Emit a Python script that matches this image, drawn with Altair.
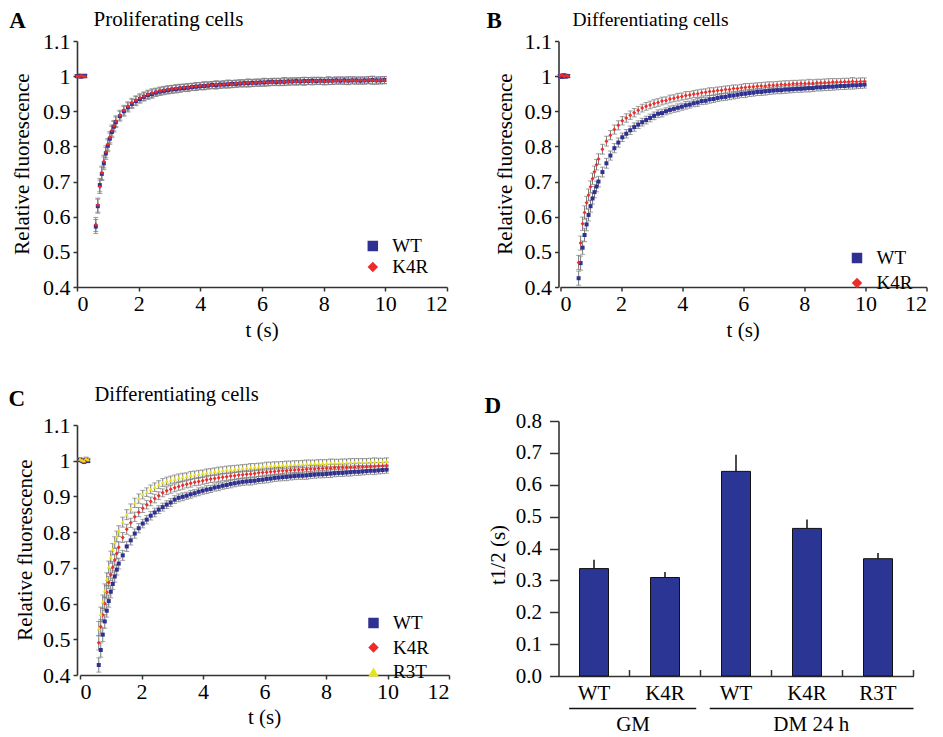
import altair as alt
import pandas as pd

FONT = "Liberation Serif"

# ---------------- data: FRAP recovery curves (t in s) ----------------
T = [0.0, 0.065, 0.13, 0.195, 0.26,
     0.61, 0.675, 0.74, 0.805, 0.87, 0.935, 1.0, 1.065, 1.13, 1.195, 1.26,
     1.39, 1.52, 1.65, 1.78, 1.91, 2.04, 2.17, 2.30, 2.43, 2.56,
     2.69, 2.82, 2.95, 3.08, 3.21, 3.34, 3.47, 3.60, 3.73, 3.86,
     3.99, 4.12, 4.25, 4.38, 4.51, 4.64, 4.77, 4.90, 5.03, 5.16,
     5.29, 5.42, 5.55, 5.68, 5.81, 5.94, 6.07, 6.20, 6.33, 6.46,
     6.59, 6.72, 6.85, 6.98, 7.11, 7.24, 7.37, 7.50, 7.63, 7.76,
     7.89, 8.02, 8.15, 8.28, 8.41, 8.54, 8.67, 8.80, 8.93, 9.06,
     9.19, 9.32, 9.45, 9.58, 9.71, 9.84, 9.97]

ERR = [0.004, 0.004, 0.005, 0.004, 0.004,
       0.020, 0.020, 0.019, 0.019, 0.018, 0.017, 0.017, 0.016, 0.016, 0.015, 0.015,
       0.014, 0.014, 0.013, 0.013, 0.013, 0.012, 0.012, 0.012, 0.012, 0.011,
       0.011, 0.011, 0.011, 0.011, 0.011, 0.011, 0.010, 0.011, 0.010, 0.011,
       0.010, 0.011, 0.010, 0.010, 0.011, 0.010, 0.010, 0.011, 0.010, 0.010,
       0.010, 0.010, 0.011, 0.010, 0.010, 0.010, 0.011, 0.010, 0.010, 0.010,
       0.010, 0.011, 0.010, 0.010, 0.010, 0.010, 0.011, 0.010, 0.010, 0.010,
       0.010, 0.010, 0.011, 0.010, 0.010, 0.010, 0.010, 0.011, 0.010, 0.010,
       0.010, 0.010, 0.010, 0.011, 0.010, 0.010, 0.010]

A_WT = [1.000, 1.001, 0.999, 1.000, 1.001,
        0.572, 0.630, 0.690, 0.722, 0.752, 0.780, 0.802, 0.822, 0.841, 0.856, 0.869,
        0.886, 0.900, 0.911, 0.921, 0.929, 0.935, 0.941, 0.946, 0.949, 0.953,
        0.956, 0.958, 0.960, 0.962, 0.963, 0.965, 0.966, 0.967, 0.969, 0.970,
        0.971, 0.972, 0.973, 0.975, 0.974, 0.976, 0.976, 0.977, 0.978, 0.978,
        0.979, 0.980, 0.980, 0.981, 0.981, 0.982, 0.982, 0.983, 0.984, 0.983,
        0.984, 0.984, 0.985, 0.985, 0.986, 0.985, 0.986, 0.986, 0.987, 0.986,
        0.987, 0.986, 0.987, 0.987, 0.988, 0.987, 0.988, 0.987, 0.988, 0.988,
        0.987, 0.988, 0.988, 0.989, 0.988, 0.988, 0.989]
A_K4R = [1.000, 0.999, 1.001, 1.000, 0.999,
         0.578, 0.633, 0.685, 0.725, 0.757, 0.785, 0.806, 0.826, 0.845, 0.859, 0.872,
         0.889, 0.903, 0.914, 0.924, 0.931, 0.938, 0.943, 0.948, 0.952, 0.955,
         0.958, 0.960, 0.962, 0.963, 0.965, 0.966, 0.968, 0.968, 0.970, 0.971,
         0.972, 0.973, 0.974, 0.974, 0.976, 0.975, 0.977, 0.978, 0.977, 0.979,
         0.980, 0.979, 0.981, 0.980, 0.982, 0.981, 0.983, 0.982, 0.983, 0.984,
         0.983, 0.985, 0.984, 0.985, 0.984, 0.986, 0.985, 0.986, 0.985, 0.987,
         0.986, 0.985, 0.987, 0.986, 0.987, 0.988, 0.986, 0.987, 0.988, 0.987,
         0.988, 0.987, 0.989, 0.988, 0.987, 0.988, 0.988]

B_WT = [1.000, 0.998, 1.002, 0.999, 1.000,
        0.425, 0.468, 0.512, 0.548, 0.578, 0.605, 0.630, 0.652, 0.670, 0.686, 0.700,
        0.727, 0.752, 0.774, 0.795, 0.811, 0.826, 0.836, 0.846, 0.855, 0.862,
        0.869, 0.875, 0.881, 0.887, 0.893, 0.895, 0.900, 0.904, 0.907, 0.910,
        0.913, 0.917, 0.919, 0.923, 0.925, 0.929, 0.930, 0.934, 0.935, 0.938,
        0.940, 0.941, 0.944, 0.945, 0.947, 0.949, 0.950, 0.952, 0.953, 0.955,
        0.955, 0.957, 0.958, 0.959, 0.960, 0.960, 0.962, 0.962, 0.963, 0.964,
        0.964, 0.965, 0.966, 0.966, 0.968, 0.968, 0.969, 0.970, 0.970, 0.971,
        0.972, 0.972, 0.973, 0.974, 0.974, 0.975, 0.976]
B_K4R = [1.001, 1.003, 0.999, 1.002, 1.000,
         0.470, 0.525, 0.580, 0.612, 0.640, 0.662, 0.685, 0.708, 0.728, 0.748, 0.764,
         0.792, 0.815, 0.832, 0.848, 0.860, 0.873, 0.881, 0.889, 0.896, 0.903,
         0.909, 0.914, 0.918, 0.922, 0.925, 0.929, 0.931, 0.935, 0.937, 0.940,
         0.942, 0.945, 0.946, 0.949, 0.950, 0.953, 0.954, 0.956, 0.957, 0.959,
         0.960, 0.962, 0.962, 0.965, 0.965, 0.967, 0.968, 0.969, 0.970, 0.971,
         0.972, 0.972, 0.974, 0.974, 0.975, 0.976, 0.976, 0.977, 0.978, 0.978,
         0.979, 0.979, 0.980, 0.980, 0.981, 0.981, 0.982, 0.982, 0.983, 0.983,
         0.983, 0.984, 0.984, 0.985, 0.984, 0.985, 0.985]

C_WT = [1.002, 1.000, 0.997, 1.001, 0.999,
        0.428, 0.470, 0.513, 0.550, 0.580, 0.607, 0.633, 0.655, 0.676, 0.695, 0.712,
        0.735, 0.760, 0.777, 0.796, 0.811, 0.824, 0.835, 0.846, 0.855, 0.863,
        0.870, 0.877, 0.883, 0.891, 0.896, 0.899, 0.902, 0.906, 0.909, 0.913,
        0.916, 0.919, 0.921, 0.925, 0.927, 0.930, 0.932, 0.935, 0.937, 0.939,
        0.941, 0.942, 0.943, 0.944, 0.946, 0.947, 0.949, 0.950, 0.952, 0.953,
        0.954, 0.955, 0.956, 0.957, 0.958, 0.958, 0.959, 0.960, 0.961, 0.962,
        0.962, 0.963, 0.964, 0.965, 0.966, 0.966, 0.967, 0.968, 0.969, 0.969,
        0.970, 0.971, 0.972, 0.972, 0.973, 0.974, 0.975]
C_K4R = [1.003, 1.000, 0.998, 1.004, 1.001,
         0.490, 0.535, 0.568, 0.600, 0.632, 0.659, 0.681, 0.702, 0.722, 0.740, 0.758,
         0.785, 0.808, 0.826, 0.843, 0.856, 0.867, 0.877, 0.886, 0.894, 0.902,
         0.910, 0.916, 0.920, 0.924, 0.928, 0.931, 0.934, 0.937, 0.940, 0.942,
         0.944, 0.947, 0.949, 0.950, 0.952, 0.954, 0.955, 0.957, 0.958, 0.960,
         0.961, 0.962, 0.963, 0.964, 0.966, 0.967, 0.968, 0.969, 0.970, 0.971,
         0.972, 0.972, 0.973, 0.974, 0.975, 0.975, 0.976, 0.977, 0.977, 0.978,
         0.978, 0.979, 0.979, 0.980, 0.980, 0.981, 0.981, 0.982, 0.982, 0.983,
         0.983, 0.983, 0.984, 0.984, 0.985, 0.985, 0.986]
C_R3T = [1.005, 1.002, 1.000, 1.006, 1.003,
         0.530, 0.570, 0.605, 0.636, 0.668, 0.702, 0.730, 0.752, 0.771, 0.788, 0.803,
         0.828, 0.849, 0.866, 0.882, 0.894, 0.905, 0.912, 0.920, 0.926, 0.933,
         0.939, 0.943, 0.946, 0.949, 0.952, 0.954, 0.956, 0.959, 0.961, 0.962,
         0.964, 0.966, 0.968, 0.970, 0.971, 0.973, 0.975, 0.975, 0.977, 0.978,
         0.979, 0.980, 0.981, 0.982, 0.983, 0.984, 0.985, 0.986, 0.987, 0.987,
         0.988, 0.988, 0.989, 0.990, 0.990, 0.991, 0.991, 0.992, 0.992, 0.993,
         0.993, 0.993, 0.994, 0.994, 0.994, 0.995, 0.995, 0.995, 0.996, 0.996,
         0.996, 0.996, 0.997, 0.997, 0.997, 0.997, 0.998]

SERIES_NAMES = ["WT", "K4R", "R3T"]
SERIES_COLORS = ["#2E3192", "#EE2A2A", "#E8E21A"]
SERIES_SHAPES = ["square", "diamond", "triangle-up"]

X_TICKS = [0, 2, 4, 6, 8, 10, 12]
Y_TICKS = [0.4, 0.5, 0.6, 0.7, 0.8, 0.9, 1.0, 1.1]
X_TITLE = "t (s)"
Y_TITLE = "Relative fluorescence"

# ---------------- data: half-times (panel D) ----------------
D_IDS = ["GM|WT", "GM|K4R", "DM|WT", "DM|K4R", "DM|R3T"]
D_T12 = [0.337, 0.309, 0.642, 0.463, 0.368]
D_SEM = [0.028, 0.017, 0.052, 0.028, 0.018]
D_TICKS = [0.0, 0.1, 0.2, 0.3, 0.4, 0.5, 0.6, 0.7, 0.8]
D_Y_TITLE = "t1/2 (s)"
D_GROUPS = ["GM", "DM 24 h"]
D_GROUP_FIRST = ["GM|WT", "DM|WT"]
D_GROUP_LAST = ["GM|K4R", "DM|R3T"]
D_GROUP_MID = ["GM|K4R", "DM|K4R"]


def text_layer(s, x, y, size, bold=False, align="left", angle=0):
    kw = dict(align=align, baseline="alphabetic", font=FONT, fontSize=size,
              fontWeight="bold" if bold else "normal", color="black")
    if angle:
        kw["angle"] = angle
    return alt.Chart(pd.DataFrame({"s": [s]})).mark_text(**kw).encode(
        text="s:N", x=alt.value(x), y=alt.value(y))


def frap_panel(series, width, height, xrange, yrange, legend_xy, row_pad, texts):
    frames = []
    for name, vals in series:
        assert len(vals) == len(T)
        frames.append(pd.DataFrame({"t": T, "v": vals, "err": ERR, "series": name}))
    df = pd.concat(frames, ignore_index=True)
    df["lo"] = df["v"] - df["err"]
    df["hi"] = df["v"] + df["err"]

    names = [n for n, _ in series]
    idx = [SERIES_NAMES.index(n) for n in names]

    xs_kw = dict(domain=[0, 12], nice=False)
    if xrange:
        xs_kw["range"] = xrange
    ys_kw = dict(domain=[0.4, 1.1], nice=False)
    if yrange:
        ys_kw["range"] = yrange
    xs = alt.Scale(**xs_kw)
    ys = alt.Scale(**ys_kw)
    ax = alt.Axis(values=X_TICKS, title=None, labelPadding=2.5,
                  tickSize=4, labelFont=FONT, labelFontSize=22)
    ay = alt.Axis(values=Y_TICKS, format="~g", title=None, labelPadding=3, tickSize=4,
                  labelFont=FONT, labelFontSize=22)

    leg = alt.Legend(title=None, orient="none", legendX=legend_xy[0], legendY=legend_xy[1],
                     symbolSize=110, labelFontSize=19, labelFont=FONT, rowPadding=row_pad,
                     labelOffset=10, padding=0, symbolStrokeWidth=0, labelColor="black")
    color = alt.Color("series:N", sort=names,
                      scale=alt.Scale(domain=names, range=[SERIES_COLORS[i] for i in idx]),
                      legend=leg)
    shape = alt.Shape("series:N", sort=names,
                      scale=alt.Scale(domain=names, range=[SERIES_SHAPES[i] for i in idx]),
                      legend=leg)

    base = alt.Chart(df)
    X = alt.X("t:Q", scale=xs, axis=ax)
    bars = base.mark_rule(color="#7a7a7a", strokeWidth=1).encode(
        x=X, y=alt.Y("lo:Q", scale=ys, axis=ay), y2="hi:Q")
    caps = base.transform_fold(["lo", "hi"], as_=["end", "cap"]).mark_tick(
        orient="horizontal", size=5, thickness=1, color="#7a7a7a").encode(
        x=X, y=alt.Y("cap:Q", scale=ys, axis=ay))
    pts = base.mark_point(filled=True, size=16, opacity=1).encode(
        x=X, y=alt.Y("v:Q", scale=ys, axis=ay), color=color, shape=shape)
    layers = [bars, caps, pts] + [text_layer(*t) for t in texts]
    return alt.layer(*layers).properties(width=width, height=height)


panelA = frap_panel([("WT", A_WT), ("K4R", A_K4R)], 372, 246, [0, 370], None,
                    (286.3, 195.5), 1,
                    [("A", -67.8, -13, 23, True), ("Proliferating cells", 16.5, -15, 21),
                     (Y_TITLE, -47.8, 123, 21, False, "center", 270),
                     (X_TITLE, 185, 295.5, 21, False, "center")])
panelB = frap_panel([("WT", B_WT), ("K4R", B_K4R)], 370, 246, [1.5, 368], None,
                    (289, 207.5), 5,
                    [("B", -72, -13.5, 23, True), ("Differentiating cells", 14, -15.5, 19.5),
                     (Y_TITLE, -47, 123, 21, False, "center", 270),
                     (X_TITLE, 184.7, 295.5, 21, False, "center")])
panelC = frap_panel([("WT", C_WT), ("K4R", C_K4R), ("R3T", C_R3T)], 372, 254, [3, 372], [254, 4],
                    (287, 192.5), 4.5,
                    [("C", -68.5, -15, 23, True), ("Differentiating cells", 17.5, -20, 20.5),
                     (Y_TITLE, -45, 129, 21, False, "center", 270),
                     (X_TITLE, 187.5, 302.5, 21, False, "center")])

# ---------------- panel D ----------------
dfD = pd.DataFrame({"id": D_IDS, "v": D_T12, "sem": D_SEM})
dfD["hi"] = dfD["v"] + dfD["sem"]
xD_scale = alt.Scale(domain=D_IDS, paddingInner=0, paddingOuter=0)
axD = alt.Axis(title=None, labelExpr="split(datum.label, '|')[1]", ticks=False, tickSize=0,
               labelAngle=0, labelPadding=6, labelFontSize=21, labelFont=FONT)
ysD = alt.Scale(domain=[0, 0.8], nice=False)
ayD = alt.Axis(values=D_TICKS, format=".1f", title=None, tickSize=9, labelPadding=8,
               labelFont=FONT, labelFontSize=21)
XD = alt.X("id:N", sort=None, scale=xD_scale, axis=axD)

baseD = alt.Chart(dfD)
barsD = baseD.mark_bar(size=29, color="#2B3593", stroke="#111111", strokeWidth=1).encode(
    x=XD, y=alt.Y("v:Q", scale=ysD, axis=ayD))
errD = baseD.mark_rule(color="#111111", strokeWidth=1.5).encode(
    x=XD, y=alt.Y("v:Q", scale=ysD, axis=ayD), y2="hi:Q")
ticksD = baseD.mark_rule(color="#333333", strokeWidth=1.5).encode(
    x=alt.X("id:N", sort=None, scale=xD_scale, axis=axD, bandPosition=1),
    y=alt.value(255), y2=alt.value(249))

grp = pd.DataFrame({"first": D_GROUP_FIRST, "last": D_GROUP_LAST, "mid": D_GROUP_MID,
                    "name": D_GROUPS})
gm_line = alt.Chart(grp.iloc[[0]]).mark_rule(color="#111111", strokeWidth=1.5).encode(
    x=alt.X("first:N", sort=None, scale=xD_scale, axis=axD, bandPosition=0.15),
    x2=alt.X2("last:N", bandPosition=0.94), y=alt.value(287.5))
dm_line = alt.Chart(grp.iloc[[1]]).mark_rule(color="#111111", strokeWidth=1.5).encode(
    x=alt.X("first:N", sort=None, scale=xD_scale, axis=axD, bandPosition=0.13),
    x2=alt.X2("last:N", bandPosition=1.0), y=alt.value(287.5))
gm_text = alt.Chart(grp.iloc[[0]]).mark_text(font=FONT, fontSize=21, baseline="alphabetic",
                                            align="center", color="black").encode(
    x=alt.X("mid:N", sort=None, scale=xD_scale, axis=axD, bandPosition=0.05),
    y=alt.value(310), text="name:N")
dm_text = alt.Chart(grp.iloc[[1]]).mark_text(font=FONT, fontSize=21, baseline="alphabetic",
                                            align="center", color="black").encode(
    x=alt.X("mid:N", sort=None, scale=xD_scale, axis=axD, bandPosition=0.56),
    y=alt.value(310), text="name:N")

panelD = alt.layer(barsD, errD, ticksD, gm_line, dm_line, gm_text, dm_text,
                   text_layer("D", -74, -8, 23, True),
                   text_layer(D_Y_TITLE, -54, 134, 21, False, "center", 270)
                   ).properties(width=355, height=255)

chart = alt.concat(panelA, panelB, panelC, panelD, columns=2,
                   spacing={"row": 134, "column": 109.5}, bounds="flush").resolve_scale(
    color="independent", shape="independent", x="independent", y="independent"
).properties(
    padding={"left": 0, "top": 0, "right": 2, "bottom": 0}
).configure(
    style={"guide-label": {"font": FONT}, "guide-title": {"font": FONT}}
).configure_view(stroke="transparent").configure_axis(
    grid=False, labelFont=FONT,
    labelColor="black", domainColor="#333333", tickColor="#333333",
    domainWidth=1.6, tickWidth=1.5
).configure_legend(labelFont=FONT)

chart.save("out.html", embed_options={"renderer": "svg", "actions": False})
